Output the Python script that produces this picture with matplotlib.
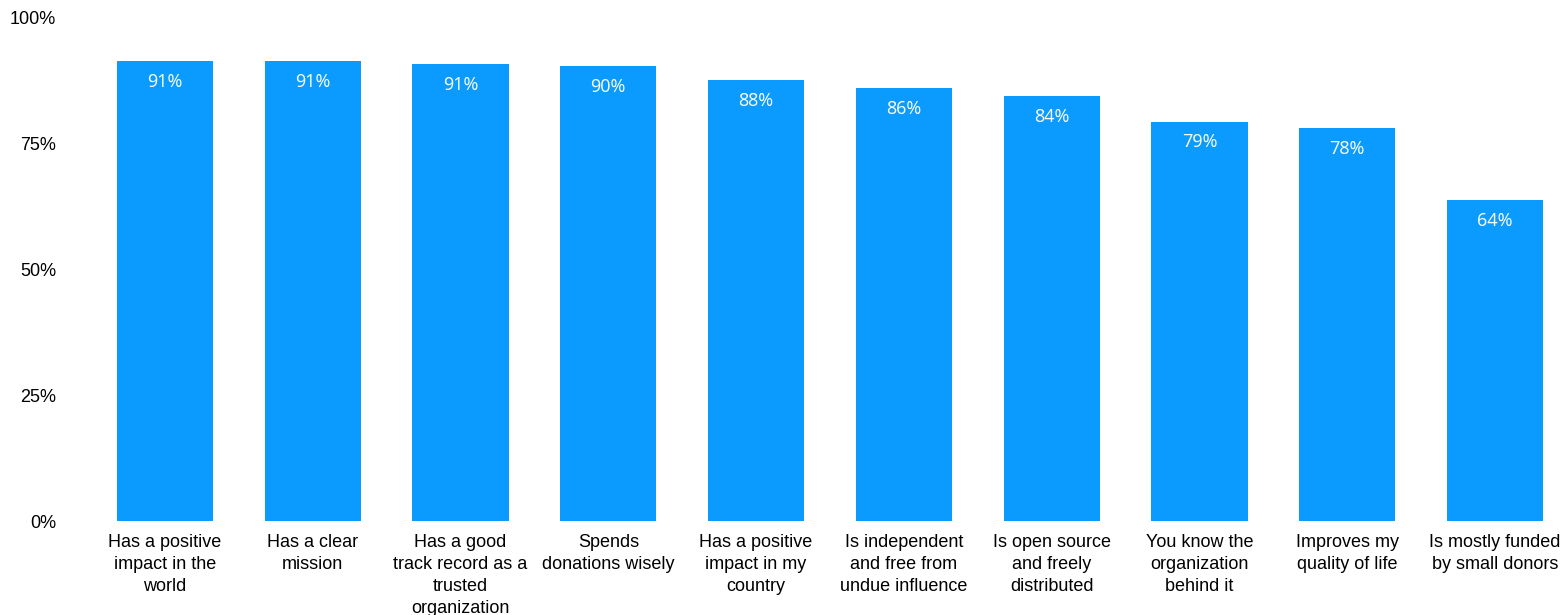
import matplotlib.pyplot as plt
import numpy as np

categories = ["Has a positive\nimpact in the\nworld",
              "Has a clear\nmission",
              "Has a good\ntrack record as a\ntrusted\norganization",
              "Spends\ndonations wisely",
              "Has a positive\nimpact in my\ncountry",
              "Is independent\nand free from\nundue influence",
              "Is open source\nand freely\ndistributed",
              "You know the\norganization\nbehind it",
              "Improves my\nquality of life",
              "Is mostly funded\nby small donors"]
values = [91.4, 91.4, 90.9, 90.5, 87.7, 86.1, 84.5, 79.4, 78.1, 63.8]
yticks = [0, 25, 50, 75, 100]

fig = plt.figure(figsize=(15.68, 6.15), dpi=100)
ax = fig.add_axes([91/1568, 94/615, 1478/1568, 503/615])

x = np.arange(len(categories))
ax.bar(x, values, width=0.65, color='#0B9BFF')

for xi, v in zip(x, values):
    ax.annotate(f"{round(v)}%", (xi, v), xytext=(0, -15), textcoords='offset points',
                ha='center', va='center', color='white', fontsize=13, family='Open Sans')

ax.set_xlim(-0.5, len(categories) - 0.5)
ax.set_ylim(0, 100)
ax.set_xticks(x)
ax.set_xticklabels(categories, fontsize=13, family='Liberation Sans', linespacing=1.38,
                   va='top', ha='center')
ax.set_yticks(yticks)
ax.set_yticklabels([f"{t}%" for t in yticks], fontsize=13, family='Liberation Sans')
ax.tick_params(axis='both', length=0)
ax.tick_params(axis='y', pad=25)
ax.tick_params(axis='x', pad=9.5)
for s in ax.spines.values():
    s.set_visible(False)

fig.savefig("out.png", dpi=100)
